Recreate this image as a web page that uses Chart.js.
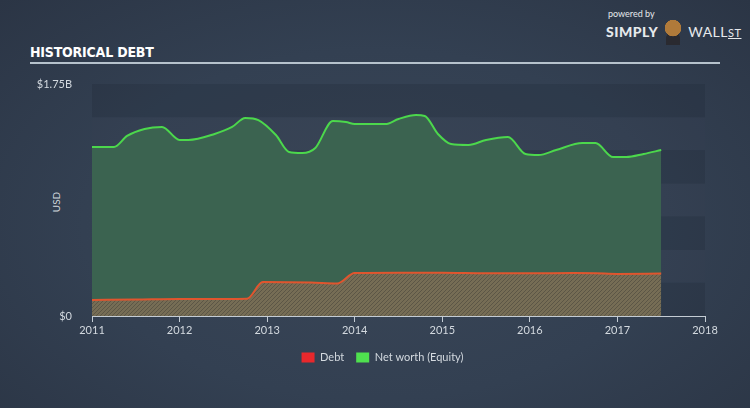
<!DOCTYPE html>
<html>
<head>
<meta charset="utf-8">
<script src="https://cdn.jsdelivr.net/npm/chart.js@4.4.0/dist/chart.umd.min.js"></script>
<style>
  html, body { margin: 0; padding: 0; }
  body {
    width: 750px; height: 408px; overflow: hidden; position: relative;
    background: radial-gradient(ellipse at 50% 55%, #3a4657 0%, #334052 55%, #2b3545 100%);
    font-family: Lato, "Open Sans", sans-serif;
  }
  #title {
    position: absolute; left: 30px; top: 44px;
    font-family: "Liberation Sans Narrow", "DejaVu Sans Condensed", sans-serif;
    font-weight: bold; font-size: 14px; color: #ffffff; letter-spacing: -0.2px;
  }
  #rule { position: absolute; left: 30px; top: 62px; width: 690px; height: 2px; background: #b6c2cc; }
  #logo { position: absolute; left: 606px; top: 8px; color: #e6e9ec; }
  #logo .pb { font-size: 9px; margin-left: 2px; }
  #logo .sw { font-size: 14px; letter-spacing: 0.5px; }
  #logo .sw b { font-weight: 900; }
  #logo .bull {
    display: inline-block; width: 22px; height: 26px; margin: 0 4px -8px 4px;
    background: radial-gradient(circle at 50% 35%, #b07a3a 0 40%, transparent 42%),
                radial-gradient(ellipse at 50% 90%, #2a2a30 0 45%, transparent 47%);
  }
  #usd {
    position: absolute; left: 44px; top: 196px; width: 24px; text-align: center;
    transform: rotate(-90deg); font-size: 10px; color: #d3d9df;
  }
  #wrap { position: absolute; left: 0; top: 0; width: 750px; height: 408px; }
</style>
</head>
<body>
<div id="title">HISTORICAL DEBT</div>
<div id="rule"></div>
<div id="logo">
  <div class="pb">powered by</div>
  <div class="sw"><b>SIMPLY</b><span class="bull"></span>WALL<u style="font-size:11px">ST</u></div>
</div>
<div id="usd">USD</div>
<div id="wrap"><canvas id="chart"></canvas></div>
<script>
// --- DATA (USD billions) ---
const xTickYears = [2011, 2012, 2013, 2014, 2015, 2016, 2017, 2018];
const yTickValues = [0, 1.75];

const equityYears = [2011.0, 2011.25, 2011.4, 2011.6, 2011.8, 2012.0, 2012.1, 2012.4, 2012.6, 2012.75, 2012.9,
  2013.1, 2013.25, 2013.4, 2013.55, 2013.75, 2013.9, 2014.0, 2014.2, 2014.35, 2014.5, 2014.7, 2014.8,
  2014.95, 2015.1, 2015.3, 2015.5, 2015.75, 2015.95, 2016.1, 2016.3, 2016.6, 2016.75, 2016.95, 2017.1,
  2017.3, 2017.5];
const equityValues = [1.275, 1.275, 1.358, 1.411, 1.426, 1.328, 1.328, 1.373, 1.426, 1.494, 1.478,
  1.365, 1.237, 1.229, 1.267, 1.471, 1.463, 1.448, 1.448, 1.448, 1.486, 1.516, 1.509,
  1.373, 1.297, 1.290, 1.328, 1.350, 1.222, 1.214, 1.252, 1.305, 1.305, 1.199, 1.199,
  1.222, 1.252];

const debtYears = [2011.0, 2011.5, 2012.0, 2012.5, 2012.77, 2012.95, 2013.5, 2013.8, 2014.0, 2014.5,
  2015.0, 2015.5, 2016.0, 2016.5, 2016.75, 2017.0, 2017.5];
const debtValues = [0.121, 0.124, 0.128, 0.128, 0.130, 0.256, 0.252, 0.245, 0.324, 0.326,
  0.326, 0.322, 0.322, 0.324, 0.322, 0.317, 0.320];

// --- STYLE ---
const COLORS = {
  debtLine: "#e0552e",
  debtLegend: "#e8282c",
  equityLine: "#4cd84c",
  equityFill: "#3b6350",
  equityLegend: "#4fe04f",
  text: "#d3d9df",
  axis: "#c4ccd4",
  bandDark: "rgba(28,36,50,0.22)",
  bandLight: "rgba(70,82,100,0.05)",
};
const LEGEND_SHIFT = 30; // legend sits a bit right of the canvas centre

function hatchPattern() {
  const c = document.createElement("canvas");
  c.width = 4; c.height = 4;
  const g = c.getContext("2d");
  g.fillStyle = "#766d55";
  g.fillRect(0, 0, 4, 4);
  g.strokeStyle = "#5c5646";
  g.lineWidth = 1;
  g.beginPath();
  g.moveTo(0, 4); g.lineTo(4, 0);
  g.moveTo(-1, 1); g.lineTo(1, -1);
  g.moveTo(3, 5); g.lineTo(5, 3);
  g.stroke();
  return g.createPattern(c, "repeat");
}

const toPoints = (xs, ys) => xs.map((x, i) => ({ x: x, y: ys[i] }));

// Alternating horizontal bands behind the plot, every 0.25B
const bandsPlugin = {
  id: "bands",
  afterLayout(chart) {
    if (chart.legend) {
      chart.legend.left += LEGEND_SHIFT;
      chart.legend.right += LEGEND_SHIFT;
    }
  },
  beforeDatasetsDraw(chart) {
    const { ctx, chartArea, scales } = chart;
    const y = scales.y;
    ctx.save();
    for (let i = 0; i < 7; i++) {
      const top = y.getPixelForValue(1.75 - i * 0.25);
      const bottom = y.getPixelForValue(1.5 - i * 0.25);
      ctx.fillStyle = i % 2 === 0 ? COLORS.bandDark : COLORS.bandLight;
      ctx.fillRect(chartArea.left, top, chartArea.right - chartArea.left, bottom - top);
    }
    ctx.restore();
  }
};

const ctx = document.getElementById("chart").getContext("2d");
new Chart(ctx, {
  type: "line",
  data: {
    datasets: [
      {
        label: "Debt",
        data: toPoints(debtYears, debtValues),
        borderColor: COLORS.debtLine,
        backgroundColor: hatchPattern(),
        borderWidth: 2,
        fill: "origin",
        pointRadius: 0,
        cubicInterpolationMode: "monotone",
      },
      {
        label: "Net worth (Equity)",
        data: toPoints(equityYears, equityValues),
        borderColor: COLORS.equityLine,
        backgroundColor: COLORS.equityFill,
        borderWidth: 2,
        fill: "origin",
        pointRadius: 0,
        cubicInterpolationMode: "monotone",
      }
    ]
  },
  options: {
    responsive: true,
    maintainAspectRatio: false,
    animation: false,
    layout: { padding: { left: 0, right: 45, top: 84, bottom: 35 } },
    plugins: {
      tooltip: { enabled: false },
      legend: {
        position: "bottom",
        labels: {
          color: COLORS.text,
          font: { family: "Lato, 'Open Sans', sans-serif", size: 11 },
          boxWidth: 13,
          boxHeight: 10,
          padding: 12,
          generateLabels: () => [
            { text: "Debt", fillStyle: COLORS.debtLegend, strokeStyle: COLORS.debtLegend, lineWidth: 0, fontColor: COLORS.text },
            { text: "Net worth (Equity)", fillStyle: COLORS.equityLegend, strokeStyle: COLORS.equityLegend, lineWidth: 0, fontColor: COLORS.text },
          ]
        }
      }
    },
    scales: {
      x: {
        type: "linear",
        min: xTickYears[0],
        max: xTickYears[xTickYears.length - 1],
        afterBuildTicks: s => { s.ticks = xTickYears.map(v => ({ value: v })); },
        afterFit: s => { s.height = 24; },
        border: { display: true, color: COLORS.axis, width: 1 },
        grid: { drawOnChartArea: false, drawTicks: true, tickLength: 6, color: COLORS.axis },
        ticks: {
          color: COLORS.text, padding: 2, maxRotation: 0,
          font: { family: "Lato, 'Open Sans', sans-serif", size: 11 },
          callback: v => String(v)
        }
      },
      y: {
        min: yTickValues[0],
        max: yTickValues[yTickValues.length - 1],
        afterBuildTicks: s => { s.ticks = yTickValues.map(v => ({ value: v })); },
        afterFit: s => { s.width = 92; },
        border: { display: false },
        grid: { display: false },
        ticks: {
          color: COLORS.text, padding: 12,
          font: { family: "Lato, 'Open Sans', sans-serif", size: 11 },
          callback: v => v === 0 ? "$0" : "$" + v + "B"
        }
      }
    }
  },
  plugins: [bandsPlugin]
});
</script>
</body>
</html>
